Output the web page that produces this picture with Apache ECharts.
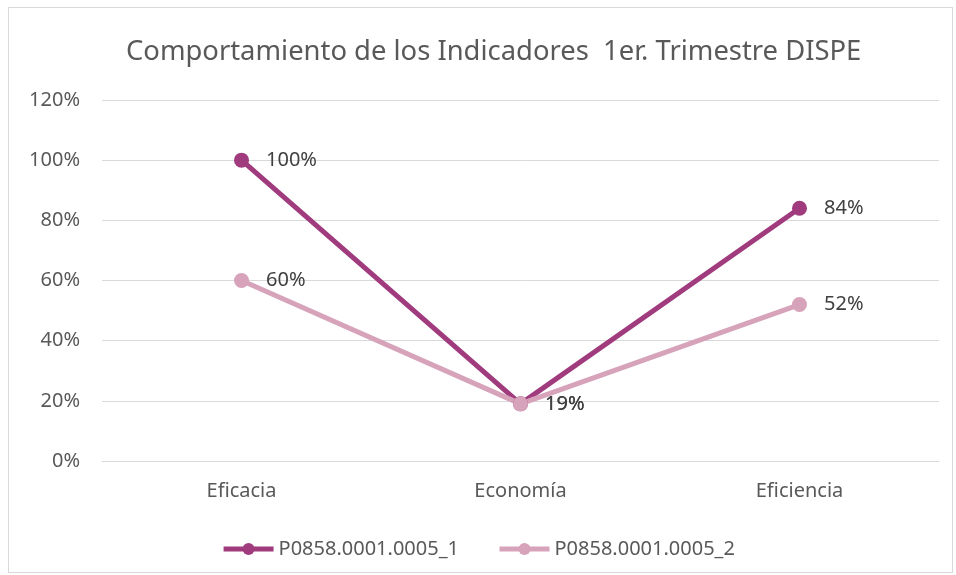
<!DOCTYPE html>
<html>
<head>
<meta charset="utf-8">
<script src="https://cdn.jsdelivr.net/npm/echarts@6/dist/echarts.min.js"></script>
<style>
  html, body { margin: 0; padding: 0; background: #fff; }
  #frame { position: absolute; left: 8px; top: 7px; width: 945px; height: 566px; border: 1px solid #d9d9d9; box-sizing: border-box; }
  #main { position: absolute; left: 0; top: 0; width: 956px; height: 575px; }
</style>
</head>
<body>
<div id="frame"></div>
<div id="main"></div>
<script>
// datos
const categorias = ['Eficacia', 'Economía', 'Eficiencia'];
const serie1 = [100, 19, 84];
const serie2 = [60, 19, 52];
const nombre1 = 'P0858.0001.0005_1';
const nombre2 = 'P0858.0001.0005_2';

const fuente = 'Noto Sans';
let chartDom = document.getElementById('main');
let myChart = echarts.init(chartDom);

let option = {
  animation: false,
  title: {
    text: 'Comportamiento de los Indicadores  1er. Trimestre DISPE',
    left: 121,
    top: 34,
    textStyle: { fontFamily: fuente, fontSize: 27.4, fontWeight: 'normal', color: '#595959' }
  },
  legend: {
    bottom: 11,
    left: 'center',
    itemWidth: 50,
    itemHeight: 15,
    itemGap: 38,
    textStyle: { fontFamily: fuente, fontSize: 20, color: '#595959' },
    lineStyle: { width: 5 },
    data: [nombre1, nombre2]
  },
  grid: { left: 102, right: 17, top: 100, bottom: 114 },
  xAxis: {
    type: 'category',
    data: categorias,
    axisLine: { lineStyle: { color: '#d9d9d9' } },
    axisTick: { show: false },
    axisLabel: { fontFamily: fuente, fontSize: 20, color: '#595959', margin: 20 }
  },
  yAxis: {
    type: 'value',
    min: 0,
    max: 120,
    interval: 20,
    axisLabel: { formatter: '{value}%', fontFamily: fuente, fontSize: 20, color: '#595959', margin: 22 },
    splitLine: { lineStyle: { color: '#d9d9d9' } }
  },
  series: [
    {
      name: nombre1,
      type: 'line',
      data: serie1,
      symbol: 'circle',
      symbolSize: 15,
      lineStyle: { width: 5, color: '#a03b7e' },
      itemStyle: { color: '#a03b7e' },
      label: { show: true, position: 'right', distance: 17, formatter: '{c}%', fontFamily: fuente, fontSize: 20, color: '#404040' }
    },
    {
      name: nombre2,
      type: 'line',
      data: serie2,
      symbol: 'circle',
      symbolSize: 15,
      lineStyle: { width: 5, color: '#d6a3bb' },
      itemStyle: { color: '#d6a3bb' },
      label: { show: true, position: 'right', distance: 17, formatter: '{c}%', fontFamily: fuente, fontSize: 20, color: '#404040' }
    }
  ]
};
myChart.setOption(option);
</script>
</body>
</html>
